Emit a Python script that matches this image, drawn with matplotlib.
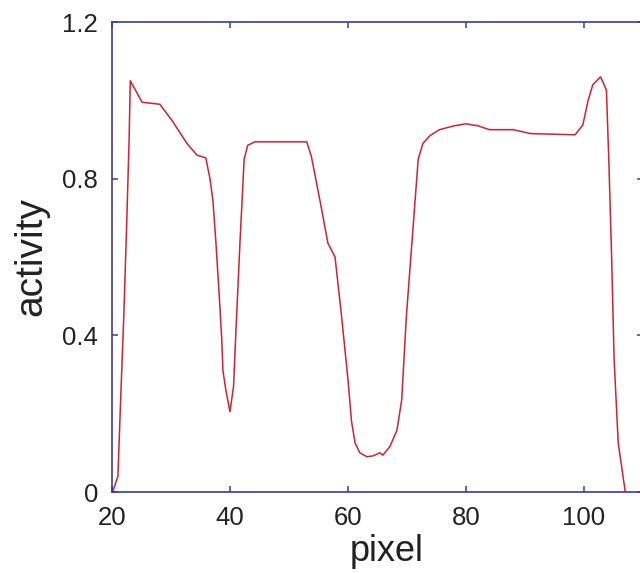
import matplotlib
matplotlib.use("Agg")
import matplotlib.pyplot as plt

# activity profile
pixel = [20.1, 21.0, 21.5, 22.0, 22.5, 22.9, 23.1, 25.1, 28.1, 30.1, 32.7, 34.4,
         35.9, 36.6, 37.1, 37.6, 38.1, 38.6, 38.8, 39.3, 40.0, 40.6, 41.0, 41.7,
         42.4, 43.0, 44.2, 53.0, 53.8, 55.3, 56.6, 57.8, 58.9, 60.0, 60.6, 61.2,
         62.0, 63.2, 64.2, 65.4, 65.9, 67.1, 68.3, 69.1, 69.9, 71.0, 71.9, 72.7,
         73.9, 75.5, 78.0, 80.0, 82.0, 84.0, 88.0, 91.0, 98.5, 99.8, 100.7, 101.5,
         102.8, 103.8, 104.2, 104.7, 105.1, 105.8, 107.0]
activity = [0.0, 0.04, 0.25, 0.45, 0.69, 0.90, 1.05, 0.995, 0.99, 0.95, 0.89, 0.86,
            0.853, 0.80, 0.745, 0.64, 0.52, 0.39, 0.31, 0.26, 0.205, 0.27, 0.41, 0.64,
            0.85, 0.885, 0.894, 0.894, 0.856, 0.74, 0.635, 0.60, 0.45, 0.286, 0.18, 0.125,
            0.10, 0.09, 0.092, 0.10, 0.094, 0.116, 0.158, 0.235, 0.45, 0.67, 0.85, 0.89,
            0.91, 0.925, 0.935, 0.94, 0.935, 0.925, 0.925, 0.915, 0.912, 0.937, 1.0, 1.04,
            1.06, 1.026, 0.85, 0.59, 0.34, 0.125, 0.0]

xticks = [20, 40, 60, 80, 100]
yticks = [0, 0.4, 0.8, 1.2]
yticklabels = ["0", "0.4", "0.8", "1.2"]

plt.rcParams['font.family'] = ['Liberation Sans', 'DejaVu Sans']
spine_col = "#3a3aa6"

fig = plt.figure(figsize=(6.4, 5.73), dpi=100)
ax = fig.add_axes([112/640, 81/573, 531/640, 470/573])

ax.plot(pixel, activity, color="#d42030", linewidth=1.1)

ax.set_xlim(20, 110)
ax.set_ylim(0, 1.2)
ax.set_xticks(xticks)
ax.set_yticks(yticks)
ax.set_yticklabels(yticklabels)

for s in ax.spines.values():
    s.set_color(spine_col)
    s.set_linewidth(1.2)

ax.tick_params(direction="in", length=4.5, width=1.1, color=spine_col,
               top=True, right=True, labelsize=18.5, labelcolor="#222222", pad=10)

ax.set_xlabel("pixel", fontsize=26, color="#222222", labelpad=3)
ax.set_ylabel("activity", fontsize=28, color="#222222", labelpad=9)
# label sits a little right of the axes centre in the reference
ax.xaxis.label.set_x(0.518)

fig.savefig("out.png", dpi=100)
